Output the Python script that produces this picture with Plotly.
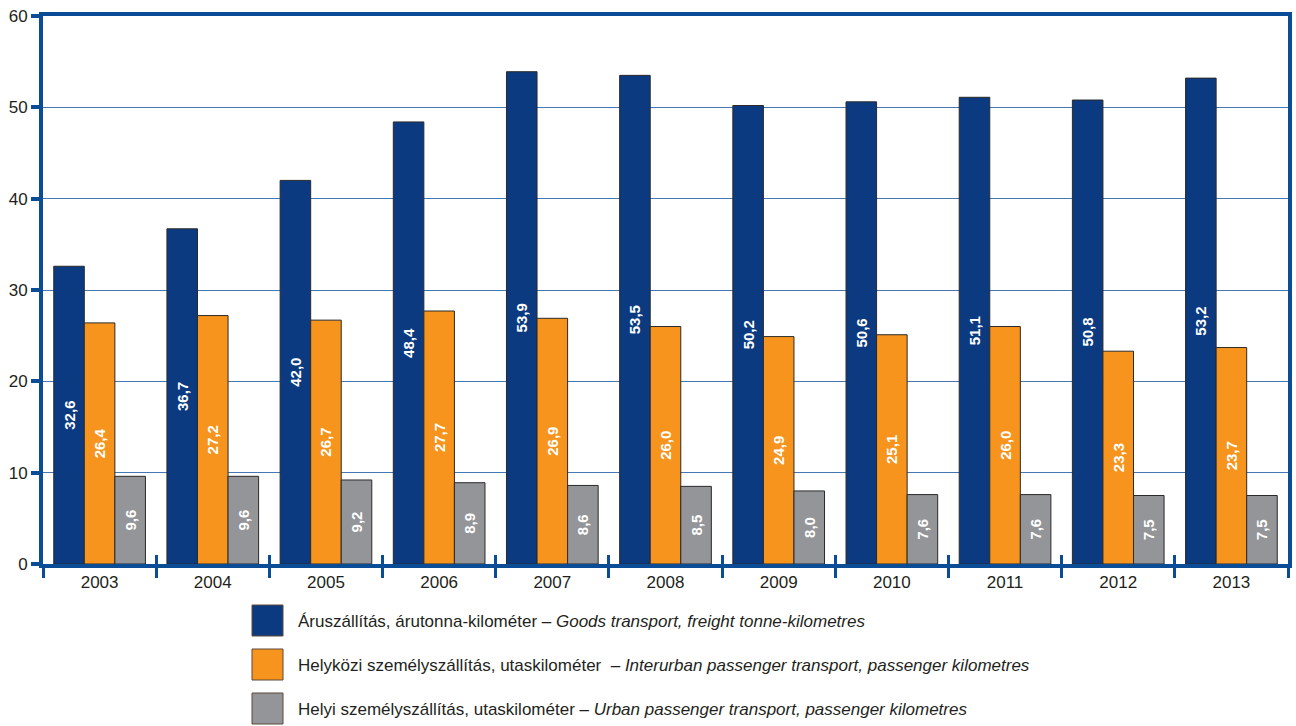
import plotly.graph_objects as go

years = ["2003", "2004", "2005", "2006", "2007", "2008", "2009", "2010", "2011", "2012", "2013"]
goods = [32.6, 36.7, 42.0, 48.4, 53.9, 53.5, 50.2, 50.6, 51.1, 50.8, 53.2]
interurban = [26.4, 27.2, 26.7, 27.7, 26.9, 26.0, 24.9, 25.1, 26.0, 23.3, 23.7]
urban = [9.6, 9.6, 9.2, 8.9, 8.6, 8.5, 8.0, 7.6, 7.6, 7.5, 7.5]

names = [
    "Áruszállítás, árutonna-kilométer – <i>Goods transport, freight tonne-kilometres</i>",
    "Helyközi személyszállítás, utaskilométer  – <i>Interurban passenger transport, passenger kilometres</i>",
    "Helyi személyszállítás, utaskilométer – <i>Urban passenger transport, passenger kilometres</i>",
]
colors = ["#0B3A80", "#F7941D", "#939598"]
series = [goods, interurban, urban]

FONT = "Liberation Sans, Arial, sans-serif"
AXIS = "#0B4C96"

W, H = 1296, 726
ML, MR, MT, MB = 43, 8, 16, 162
PW, PH = W - ML - MR, H - MT - MB

fig = go.Figure()
for name, vals, col in zip(names, series, colors):
    fig.add_trace(go.Bar(
        x=years, y=vals, name=name,
        marker=dict(color=col, line=dict(color="#2a2a2a", width=1)),
        texttemplate="%{y:.1f}", textposition="inside", insidetextanchor="middle",
        textangle=-90, textfont=dict(family=FONT, size=15, color="white", weight="bold"),
        showlegend=False, hoverinfo="skip",
    ))

# invisible helper trace so the secondary x-axis (inside tick marks) is drawn
fig.add_trace(go.Scatter(x=years, y=[0] * len(years), xaxis="x2", mode="markers",
                         marker=dict(opacity=0), showlegend=False, hoverinfo="skip"))

def px_x(p):
    return (p - ML) / PW

def px_y(p):
    return (H - MB - p) / PH

shapes = []
annotations = []
row_tops = [605, 649, 693]
for i, (name, col) in enumerate(zip(names, colors)):
    t = row_tops[i]
    shapes.append(dict(type="rect", xref="paper", yref="paper",
                       x0=px_x(252), x1=px_x(283), y0=px_y(t + 31), y1=px_y(t),
                       fillcolor=col, line=dict(color="#5a4a3a", width=1)))
    annotations.append(dict(xref="paper", yref="paper", x=px_x(296), y=px_y(t + 16),
                            xanchor="left", yanchor="middle", showarrow=False,
                            text=name, font=dict(family=FONT, size=17, color="#231F20")))

xrange = [-0.5, len(years) - 0.5]

fig.update_layout(
    width=W, height=H,
    margin=dict(l=ML, r=MR, t=MT, b=MB, autoexpand=False),
    plot_bgcolor="white", paper_bgcolor="white",
    barmode="group", bargap=0.19, bargroupgap=0,
    separators=", ",
    uniformtext=dict(minsize=10, mode="show"),
    shapes=shapes, annotations=annotations,
    font=dict(family=FONT, size=17, color="#231F20"),
    xaxis=dict(range=xrange, showline=True, linecolor=AXIS, linewidth=4, mirror=True, automargin=False,
               ticks="outside", ticklen=10, tickwidth=3, tickcolor=AXIS,
               tickson="boundaries", showgrid=False,
               tickfont=dict(family=FONT, size=17, color="#231F20")),
    xaxis2=dict(range=xrange, overlaying="x", anchor="y", side="bottom",
                showline=False, showgrid=False, showticklabels=False, automargin=False,
                ticks="inside", ticklen=9, tickwidth=3, tickcolor=AXIS, tickson="boundaries"),
    yaxis=dict(range=[0, 60], dtick=10, showline=True, linecolor=AXIS, linewidth=4, mirror=True,
               automargin=False,
               ticks="outside", ticklen=8, tickwidth=4, tickcolor=AXIS,
               showgrid=True, gridcolor="#4677B2", gridwidth=1.3, zeroline=False,
               tickfont=dict(family=FONT, size=17, color="#231F20")),
)

fig.write_html("out.html", config={"displayModeBar": False},
               post_script="document.body.style.margin='0';document.body.style.overflow='hidden';")
